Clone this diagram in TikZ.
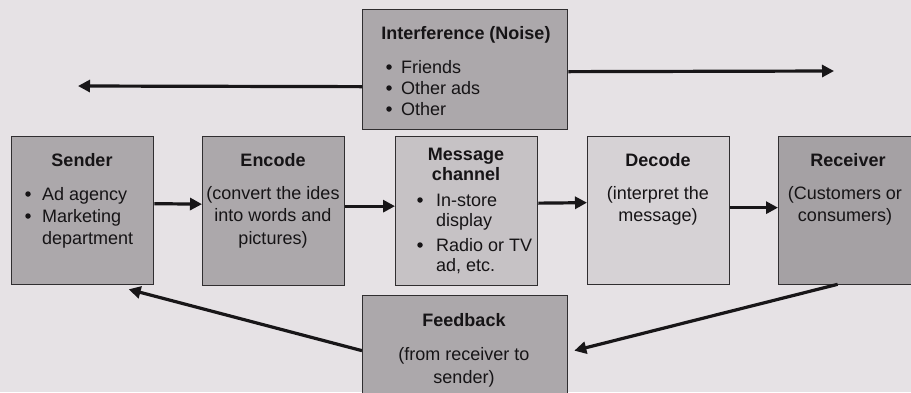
\documentclass[tikz,border=0pt]{standalone}
\usepackage{fontspec}
\setmainfont{Liberation Sans}
\usetikzlibrary{arrows.meta}
\definecolor{bg}{HTML}{E6E2E5}
\definecolor{darkbox}{HTML}{ACA8AB}
\definecolor{midbox}{HTML}{C6C2C5}
\definecolor{lightbox}{HTML}{D6D2D5}
\definecolor{bordercol}{HTML}{302E30}
\definecolor{textcol}{HTML}{161416}
\definecolor{arrowcol}{HTML}{181618}
\begin{document}
\begin{tikzpicture}[x=1pt,y=-1pt,
  box/.style={draw=bordercol, line width=1.3pt, inner sep=0pt, anchor=north west},
  ttl/.style={font=\fontsize{18}{21.6}\selectfont\bfseries, text=textcol, anchor=base, inner sep=0pt},
  txt/.style={font=\fontsize{18}{21.6}\selectfont, text=textcol, anchor=base, inner sep=0pt},
  lft/.style={font=\fontsize{18}{21.6}\selectfont, text=textcol, anchor=base west, inner sep=0pt},
  bul/.style={circle, fill=textcol, inner sep=0pt, minimum size=5.5pt},
  arr/.style={line width=3.2pt, draw=arrowcol, -{Triangle[length=12pt,width=12pt]}}]
\fill[bg] (0,0) rectangle (911,392);
\useasboundingbox (0,0) rectangle (911,392);

% boxes
\node[box, fill=darkbox, minimum width=205pt, minimum height=120pt] (noise) at (362,9) {};
\node[box, fill=darkbox, minimum width=142pt, minimum height=148pt] (sender) at (11,136) {};
\node[box, fill=darkbox, minimum width=142pt, minimum height=149pt] (encode) at (202,136) {};
\node[box, fill=midbox, minimum width=142pt, minimum height=149pt] (channel) at (395,136) {};
\node[box, fill=lightbox, minimum width=142pt, minimum height=148pt] (decode) at (587,136) {};
\node[box, fill=darkbox!96!black, minimum width=140pt, minimum height=148pt] (receiver) at (778,136) {};
\node[box, fill=darkbox, minimum width=205pt, minimum height=110pt] (fb) at (362,295) {};

% noise text
\node[ttl] (nt) at (466,39) {Interference (Noise)};
\node[bul] (nb1) at (389,67) {};
\node[lft] (n1) at (401,73) {Friends};
\node[bul] (nb2) at (389,88) {};
\node[lft] (n2) at (401,94) {Other ads};
\node[bul] (nb3) at (389,109) {};
\node[lft] (n3) at (401,115) {Other};

% sender text
\node[ttl] (st) at (82,166) {Sender};
\node[bul] (sb1) at (28,194) {};
\node[lft] (s1) at (42,200) {Ad agency};
\node[bul] (sb2) at (28,216) {};
\node[lft] (s2) at (42,222) {Marketing};
\node[lft] (s3) at (42,244) {department};

% encode text
\node[ttl] (et) at (273,166) {Encode};
\node[txt] (e1) at (273,199) {(convert the ides};
\node[txt] (e2) at (273,221) {into words and};
\node[txt] (e3) at (273,244) {pictures)};

% channel text
\node[ttl] (ct1) at (466,160) {Message};
\node[ttl] (ct2) at (466,180) {channel};
\node[bul] (cb1) at (420,200) {};
\node[lft] (c1) at (436,206) {In-store};
\node[lft] (c2) at (436,226) {display};
\node[bul] (cb2) at (420,245) {};
\node[lft] (c3) at (436,251) {Radio or TV};
\node[lft] (c4) at (436,271) {ad, etc.};

% decode text
\node[ttl] (dt) at (658,166) {Decode};
\node[txt] (d1) at (658,199) {(interpret the};
\node[txt] (d2) at (658,221) {message)};

% receiver text
\node[ttl] (rt) at (848,166) {Receiver};
\node[txt] (r1) at (845,199) {(Customers or};
\node[txt] (r2) at (845,221) {consumers)};

% feedback text
\node[ttl] (ft) at (464,326) {Feedback};
\node[txt] (f1) at (464,360) {(from receiver to};
\node[txt] (f2) at (464,383) {sender)};

% connectors
\coordinate (lend) at (78,86);
\coordinate (rend) at (834,71);
\draw[arr] ([yshift=-17pt]noise.west) -- (lend);
\draw[arr] ([yshift=-2pt]noise.east) -- (rend);
\draw[arr] ([yshift=7pt]sender.east) -- ([yshift=7pt]encode.west);
\draw[arr] ([yshift=5pt]encode.east) -- ([yshift=5pt]channel.west);
\draw[arr] ([yshift=8pt]channel.east) -- ([yshift=8pt]decode.west);
\draw[arr] ([yshift=3pt]decode.east) -- ([yshift=3pt]receiver.west);
\draw[arr] (fb.west) -- ([xshift=46pt,yshift=-4pt]sender.south);
\draw[arr] ([xshift=-11pt,yshift=1pt]receiver.south) -- ([xshift=6pt]fb.east);
\end{tikzpicture}
\end{document}
